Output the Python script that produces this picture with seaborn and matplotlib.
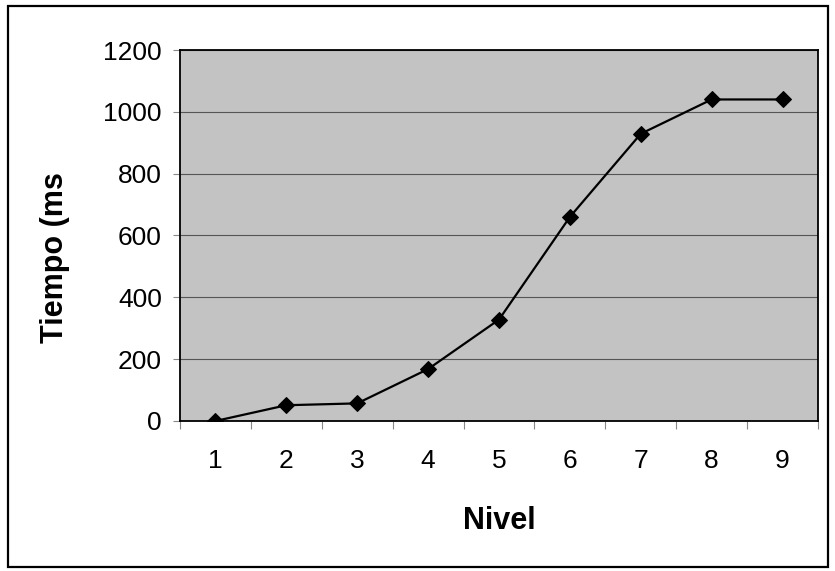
import matplotlib
matplotlib.use("Agg")
import matplotlib.pyplot as plt
import seaborn as sns
import pandas as pd
import numpy as np

# Tiempo de ejecución por nivel
niveles = [1, 2, 3, 4, 5, 6, 7, 8, 9]
tiempos = [0, 51, 57, 168, 328, 660, 929, 1040, 1040]
y_ticks = [0, 200, 400, 600, 800, 1000, 1200]

df = pd.DataFrame({"Nivel": niveles, "Tiempo": tiempos})

sns.set_theme(style="white")
plt.rcParams["font.family"] = ["Liberation Sans", "DejaVu Sans"]
plt.rcParams["text.color"] = "black"
plt.rcParams["xtick.color"] = "black"
plt.rcParams["ytick.color"] = "black"

fig = plt.figure(figsize=(8.35, 5.71), dpi=100)
ax = fig.add_axes([180 / 835, 1 - 421 / 571, (818 - 180) / 835, (421 - 50) / 571])
ax.set_facecolor("#c3c3c3")

sns.lineplot(data=df, x="Nivel", y="Tiempo", ax=ax, color="black", linewidth=1.6,
             marker="D", markersize=8, markeredgecolor="black", zorder=3)

ax.set_xlim(0.5, 9.5)
ax.set_ylim(0, 1200)
ax.set_yticks(y_ticks)
ax.set_xticks(niveles)
ax.set_xticks(np.arange(0.5, 10, 1), minor=True)
ax.grid(axis="y", color="#555555", linewidth=0.8)
ax.set_axisbelow(True)

for s in ax.spines.values():
    s.set_visible(True)
    s.set_color("black")
    s.set_linewidth(1.3)

ax.tick_params(axis="y", which="major", length=5, width=0.8, color="#888888",
               labelcolor="black", labelsize=19, pad=8, left=True)
ax.tick_params(axis="x", which="major", length=0, labelcolor="black", labelsize=19, pad=20)
ax.tick_params(axis="x", which="minor", length=6, width=0.8, color="#888888", bottom=True)

ax.set_xlabel("Nivel", fontsize=22, fontweight="bold", labelpad=24, color="black")
ax.set_ylabel("Tiempo (ms", fontsize=22, fontweight="bold", color="black")
ax.yaxis.set_label_coords(-0.172, 0.44)

# Marco exterior del gráfico
fig.patches.append(plt.Rectangle((8 / 835, 4 / 571), 820 / 835, 561 / 571,
                                 transform=fig.transFigure, fill=False,
                                 edgecolor="black", linewidth=1.6))

fig.savefig("out.png", dpi=100)
